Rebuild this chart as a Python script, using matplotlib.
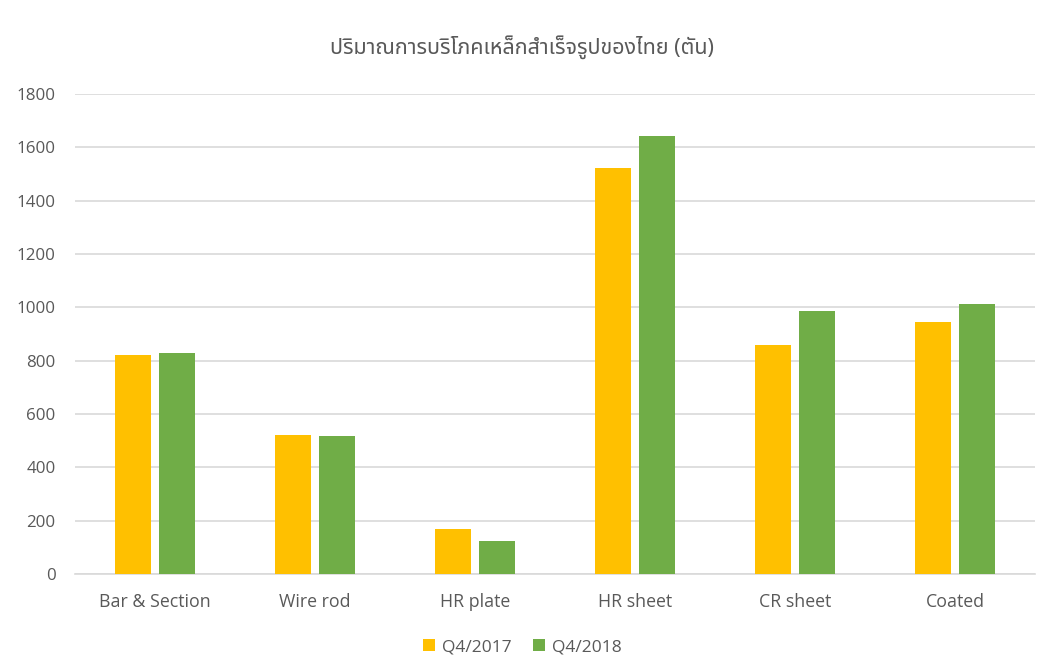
import matplotlib
matplotlib.use("Agg")
import matplotlib.pyplot as plt
import numpy as np

categories = ["Bar & Section", "Wire rod", "HR plate", "HR sheet", "CR sheet", "Coated"]
q4_2017 = [821, 521, 167, 1524, 858, 945]
q4_2018 = [830, 517, 123, 1644, 985, 1014]
series_names = ["Q4/2017", "Q4/2018"]
title = "ปริมาณการบริโภคเหล็กสำเร็จรูปของไทย (ตัน)"

YELLOW = "#FFC000"
GREEN = "#70AD47"
TEXT = "#595959"
GRID = "#D9D9D9"

plt.rcParams['font.family'] = ['Open Sans', 'DejaVu Sans']

fig = plt.figure(figsize=(10.45, 6.67), dpi=100)
ax = fig.add_axes([0.0718, 0.1394, 0.9187, 0.7196])

x = np.arange(len(categories))
w = 0.225
off = 0.14
ax.bar(x - off, q4_2017, w, color=YELLOW, label=series_names[0], zorder=3)
ax.bar(x + off, q4_2018, w, color=GREEN, label=series_names[1], zorder=3)

ax.set_xlim(-0.5, len(categories) - 0.5)
ax.set_ylim(0, 1800)
ax.set_yticks(np.arange(0, 1801, 200))
ax.set_xticks(x)
ax.set_xticklabels(categories)
ax.yaxis.grid(True, color=GRID, linewidth=1.2, zorder=0)
ax.set_axisbelow(True)
for s in ["top", "right", "left"]:
    ax.spines[s].set_visible(False)
ax.spines["bottom"].set_color(GRID)
ax.spines["bottom"].set_linewidth(1.2)
ax.tick_params(axis="both", length=0, labelsize=12.2, colors=TEXT)
ax.tick_params(axis="x", pad=14, labelsize=12.8)
ax.tick_params(axis="y", pad=14)

fig.text(0.5, 0.929, title, ha="center", va="center", fontsize=15.5, color=TEXT,
         family=["Noto Sans Thai", "DejaVu Sans"])

fig.legend(loc="center", bbox_to_anchor=(0.5, 0.03), ncol=2, frameon=False,
           fontsize=12.5, labelcolor=TEXT, handlelength=0.7, handleheight=0.7,
           handletextpad=0.4, columnspacing=1.2)

fig.savefig("out.png")
